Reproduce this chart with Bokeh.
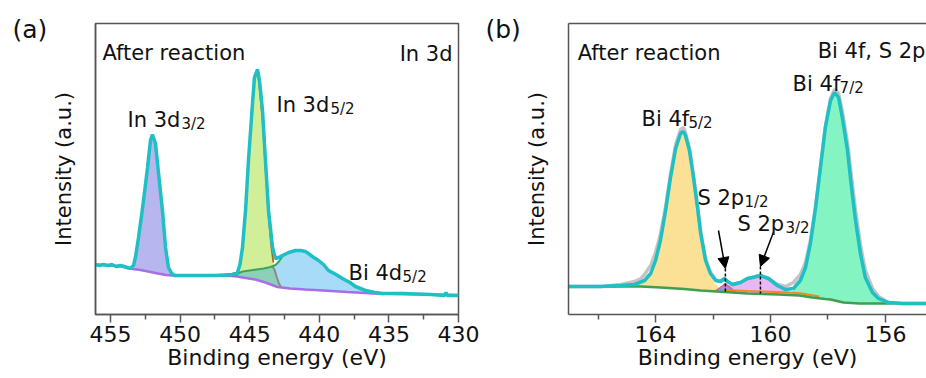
import math
from bokeh.plotting import figure
from bokeh.models import Range1d, FixedTicker, Label, Arrow, NormalHead, LinearAxis
from bokeh.layouts import row
from bokeh.embed import file_html
from bokeh.resources import INLINE

FONT = "DejaVu Sans"

# ---------------- Panel (a): In 3d (binding energy eV, intensity a.u.) ----------------
a_env_e = [456.08, 455.8, 455.5, 455.2, 454.9, 454.6, 454.3, 454.0, 453.8, 453.6, 453.35, 453.2,
           452.99, 452.8, 452.63, 452.34, 452.13, 451.99, 451.77, 451.55, 451.27, 451.05, 450.84,
           450.6, 450.4, 449.0, 447.5, 446.24, 445.88, 445.7, 445.52, 445.3, 445.09, 444.8, 444.66,
           444.44, 444.3, 444.08, 443.87, 443.65, 443.36, 443.15, 442.9, 442.65, 442.2, 441.7,
           441.35, 441.0, 440.78, 440.4, 440.06, 439.7, 439.34, 438.8, 438.34, 437.8, 437.4,
           436.68, 436.0, 435.46, 434.0, 432.0, 431.0, 430.9, 430.8, 430.0]
a_env_i = [50, 49, 50, 49, 50, 48, 49, 48, 47, 46, 49, 58,
           77, 96, 114, 147, 174, 180, 171, 141, 104, 67, 47,
           41, 39, 39, 39, 40, 42, 50, 67, 104, 154, 211, 237,
           245, 234, 204, 154, 104, 67, 56, 57, 59, 62, 64,
           64, 63, 61, 57, 54, 50, 44, 40, 36, 32, 28,
           24, 22, 21, 21, 20, 19, 22, 19, 19]

a_bg_e = [456.08, 455.0, 454.2, 453.9, 453.4, 452.85, 452.3, 451.6, 451.0, 450.5, 448.0, 446.3,
          445.9, 445.3, 444.6, 443.87, 443.3, 443.0, 442.1, 441.0, 439.7, 438.0, 436.1, 434.2,
          432.0, 430.0]
a_bg_i = [50, 49, 48, 47, 45.5, 44.5, 43, 41, 39.5, 39, 39, 38.5,
          38, 36.5, 35, 32, 29, 27.5, 26, 25, 24, 22.5, 21, 20.5,
          20, 19.5]

# In 3d3/2 component
a_p1_e = [453.7, 453.35, 453.2, 452.99, 452.8, 452.63, 452.34, 452.13, 451.99, 451.77, 451.55,
          451.27, 451.05, 450.84, 450.6, 450.45]
a_p1_i = [46.6, 49, 57, 76, 95, 113, 146, 173, 179, 170, 140, 103, 66, 46, 40, 39]

# In 3d5/2 component
a_p2_e = [446.3, 445.88, 445.7, 445.52, 445.3, 445.09, 444.8, 444.66, 444.44, 444.3, 444.08,
          443.87, 443.65, 443.45, 443.3, 443.15, 443.0, 442.85, 442.7]
a_p2_i = [38.5, 41, 49, 66, 103, 153, 210, 235, 243, 228, 195, 148, 100, 68, 52, 42, 33, 28.5, 27]

# In 3d5/2 shoulder component (teal, grey edge)
a_p3_e = [446.1, 445.88, 445.5, 445.0, 444.5, 444.0, 443.5, 443.35, 443.2, 443.05, 442.9, 442.75]
a_p3_i = [38.5, 41, 43, 44, 45, 46, 47.5, 48, 44, 37, 31, 27.5]

# Bi 4d5/2 component
a_p4_e = [446.1, 445.88, 445.5, 445.0, 444.5, 444.0, 443.5, 443.15, 442.9, 442.65, 442.2, 441.7,
          441.35, 441.0, 440.78, 440.4, 440.06, 439.7, 439.34, 438.8, 438.34, 437.8, 437.4,
          436.68, 436.0, 435.3]
a_p4_i = [38.5, 41, 43, 44, 45, 46, 47.5, 49.5, 53, 58, 62, 64,
          64, 63, 61, 57, 54, 50, 44, 40, 36, 32, 28,
          24, 22, 21]

a_ticks = [455, 450, 445, 440, 435, 430]
a_minor = [452.5, 447.5, 442.5, 437.5, 432.5]

# ---------------- Panel (b): Bi 4f, S 2p ----------------
b_env_e = [167.06, 165.91, 165.22, 164.73, 164.38, 164.17, 164.0, 163.83, 163.65, 163.48, 163.30,
           163.13, 163.03, 162.96, 162.82, 162.68, 162.54, 162.43, 162.26, 162.09, 161.91, 161.74,
           161.60, 161.50, 161.32, 161.04, 160.80, 160.63, 160.35, 160.07, 159.76, 159.48, 159.20,
           158.96, 158.78, 158.61, 158.43, 158.26, 158.09, 157.91, 157.77, 157.63, 157.50, 157.32,
           157.18, 157.04, 156.87, 156.70, 156.45, 156.24, 155.90, 155.41, 154.57]
b_env_i = [28, 28, 29, 30, 34, 41, 54, 74, 104, 137, 166,
           181, 183, 179, 164, 137, 107, 81, 54, 41, 34, 33,
           36, 33, 30, 32, 36, 37, 39, 36, 29, 25, 26,
           34, 47, 71, 107, 147, 187, 214, 222, 217, 197, 164,
           127, 94, 61, 37, 22, 16, 12, 11, 11]

b_raw_e = [167.06, 165.9, 165.2, 164.73, 164.5, 164.38, 164.17, 164.0, 163.83, 163.65, 163.48,
           163.30, 163.13, 163.03, 162.96, 162.82, 162.68, 162.54, 162.43, 162.26, 162.09, 161.91,
           161.74, 161.6, 161.5, 161.32, 161.04, 160.8, 160.63, 160.35, 160.07, 159.76, 159.48,
           159.2, 158.96, 158.78, 158.61, 158.43, 158.26, 158.09, 157.91, 157.77, 157.63, 157.5,
           157.32, 157.18, 157.04, 156.87, 156.7, 156.45, 156.24, 155.9, 155.41, 154.57]
b_raw_i = [28, 28, 30, 33, 36, 40, 49, 62, 80, 108, 140,
           170, 185, 187, 182, 166, 139, 109, 83, 56, 42, 35,
           33, 36, 33, 30, 32, 36, 37, 39, 36, 30, 28,
           32, 40, 52, 74, 108, 148, 188, 216, 225, 221, 203,
           172, 137, 104, 70, 44, 26, 18, 12, 11, 11]

b_bg_e = [167.06, 165.0, 164.5, 163.83, 163.0, 162.43, 161.6, 160.8, 159.72, 159.0, 158.54,
          158.1, 157.91, 157.46, 156.9, 156.28, 154.57]
b_bg_i = [28, 28, 28, 27, 25.5, 24, 22.5, 21, 20, 19, 17,
          15.5, 15, 12, 11, 11, 11]

# Bi 4f5/2 component
b_p1_e = [164.75, 164.5, 164.35, 164.17, 164.0, 163.83, 163.65, 163.48, 163.30, 163.13, 163.03,
          162.96, 162.82, 162.68, 162.54, 162.43, 162.26, 162.09, 161.91, 161.74, 161.55]
b_p1_i = [28, 31, 34, 40, 53, 73, 103, 136, 165, 180, 182,
          178, 163, 136, 106, 80, 53, 38, 30, 26, 23]

# S 2p1/2 component
b_p2_e = [161.95, 161.75, 161.57, 161.4, 161.2]
b_p2_i = [23, 27, 31, 27, 22]

# S 2p3/2 component
b_p3_e = [161.75, 161.5, 161.3, 161.04, 160.8, 160.63, 160.35, 160.07, 159.76, 159.48, 159.2, 158.9]
b_p3_i = [22.5, 29, 30, 31, 35, 36, 38, 35, 28, 24, 21.5, 19.5]

# broad S component (orange line)
b_p4_e = [161.6, 161.2, 160.8, 160.3, 159.8, 159.3, 158.9, 158.6, 158.3]
b_p4_i = [24.5, 24, 23.5, 23, 22.5, 22, 21, 19.5, 18]

# Bi 4f7/2 component
b_p5_e = [159.4, 159.2, 158.96, 158.78, 158.61, 158.43, 158.26, 158.09, 157.91, 157.77, 157.63,
          157.5, 157.32, 157.18, 157.04, 156.87, 156.7, 156.45, 156.24, 155.9, 155.6]
b_p5_i = [19.5, 24, 32, 45, 70, 106, 146, 186, 213, 221, 216,
          196, 163, 126, 93, 60, 36, 21, 15, 11.5, 11]

b_ticks = [164, 160, 156]
b_minor = [166, 162, 158]

# S 2p peak markers (energy, arrow-tip intensity, arrow start energy/intensity)
s_mark_e = [161.57, 160.35]
s_tip_i = [46, 48]
s_start_e = [161.81, 159.90]
s_start_i = [84, 82]

FRAME = "#555555"
ENV = "#1fbfc6"


def fill_under(p, ex, ey, bx, by, color):
    lo, hi = min(ex), max(ex)
    seg = [(x, y) for x, y in zip(bx, by) if lo < x < hi]
    seg.reverse()
    xs = list(ex) + [s[0] for s in seg]
    ys = list(ey) + [s[1] for s in seg]
    p.patch(xs, ys, fill_color=color, line_color=None)


def make_fig(x0, x1, width, bl, br):
    p = figure(width=width, height=378, x_range=Range1d(x0, x1), y_range=Range1d(0, 291),
               output_backend="svg", toolbar_location=None,
               min_border_left=bl, min_border_right=br, min_border_top=23, min_border_bottom=64)
    p.grid.visible = False
    p.background_fill_color = "white"
    p.border_fill_color = "white"
    xa = p.xaxis[0]
    xa.axis_line_color = FRAME
    xa.axis_line_width = 1.5
    xa.major_tick_line_color = FRAME
    xa.major_tick_line_width = 1.5
    xa.minor_tick_line_color = FRAME
    xa.minor_tick_line_width = 1.5
    xa.major_tick_out = 8
    xa.major_tick_in = 0
    xa.minor_tick_out = 5
    xa.minor_tick_in = 0
    xa.major_label_text_font = FONT
    xa.major_label_text_font_size = "22px"
    xa.major_label_text_color = "#111111"
    xa.major_label_standoff = 3
    xa.axis_label = "Binding energy (eV)"
    xa.axis_label_text_font = FONT
    xa.axis_label_text_font_size = "22px"
    xa.axis_label_text_font_style = "normal"
    xa.axis_label_text_color = "#111111"
    xa.axis_label_standoff = 0
    ya = p.yaxis[0]
    ya.ticker = FixedTicker(ticks=[])
    ya.major_tick_out = 0
    ya.minor_tick_out = 0
    ya.major_label_text_font_size = "0px"
    ya.axis_line_color = FRAME
    ya.axis_line_width = 1.5
    ya.axis_label = "Intensity (a.u.)"
    ya.axis_label_text_font = FONT
    ya.axis_label_text_font_size = "21px"
    ya.axis_label_text_font_style = "normal"
    ya.axis_label_text_color = "#111111"
    ya.axis_label_standoff = 20
    return p


def txt(p, x, y, text, size="21px", align="left", xo=0):
    p.add_layout(Label(x=x, y=y, text=text, text_font=FONT, text_font_size=size,
                       text_color="#111111", text_align=align, text_baseline="alphabetic",
                       x_offset=xo))


# ---------------- build panel (a) ----------------
pa = make_fig(456.08, 430.0, 480, 95, 22)
pa.xaxis[0].ticker = FixedTicker(ticks=a_ticks, minor_ticks=a_minor)
pa.outline_line_color = FRAME
pa.outline_line_width = 1.5

fill_under(pa, a_p1_e, a_p1_i, a_bg_e, a_bg_i, "#b8b6ee")
fill_under(pa, a_p4_e, a_p4_i, a_bg_e, a_bg_i, "#a8dbf7")
fill_under(pa, a_p2_e, a_p2_i, a_bg_e, a_bg_i, "#d0ef98")
fill_under(pa, a_p3_e, a_p3_i, a_bg_e, a_bg_i, "#8dcfb8")
pa.line(a_bg_e, a_bg_i, line_color="#a66fe3", line_width=2.5)
pa.line(a_p2_e[:15], a_p2_i[:15], line_color="#c25d12", line_width=1.8)
pa.line(a_p3_e[7:], a_p3_i[7:], line_color="#8a8a8a", line_width=2)
pa.line(a_p4_e, a_p4_i, line_color="#3ea35c", line_width=2)
pa.line(a_env_e, a_env_i, line_color=ENV, line_width=3.5)

txt(pa, 455.58, 262, "After reaction")
txt(pa, 430.43, 261, "In 3d", align="right")
txt(pa, 453.78, 195, "In 3d")
txt(pa, 453.78, 191, "3/2", size="15px", xo=54)
txt(pa, 443.08, 210, "In 3d")
txt(pa, 443.08, 206, "5/2", size="15px", xo=54)
txt(pa, 437.9, 42, "Bi 4d")
txt(pa, 437.9, 38, "5/2", size="15px", xo=54)
# panel tag placed in the left side panel (data units, so it lands left of the frame)
pa.add_layout(Label(x=462.05, y=285, text="(a)", text_font=FONT, text_font_size="25px",
                    text_color="#111111", text_align="left", text_baseline="alphabetic"), "left")

# ---------------- build panel (b) ----------------
pb = make_fig(167.03, 154.57, 446, 88, 0)
pb.xaxis[0].ticker = FixedTicker(ticks=b_ticks, minor_ticks=b_minor)
pb.outline_line_color = None
top_axis = LinearAxis(ticker=FixedTicker(ticks=[]), major_tick_out=0, minor_tick_out=0,
                      major_label_text_font_size="0px", axis_line_color=FRAME, axis_line_width=1.5)
pb.add_layout(top_axis, "above")

fill_under(pb, b_p1_e, b_p1_i, b_bg_e, b_bg_i, "#fbe196")
fill_under(pb, b_p3_e, b_p3_i, b_bg_e, b_bg_i, "#e9b7f3")
fill_under(pb, b_p2_e, b_p2_i, b_bg_e, b_bg_i, "#9c8fe6")
fill_under(pb, b_p5_e, b_p5_i, b_bg_e, b_bg_i, "#84f4c2")
pb.line(b_p2_e, b_p2_i, line_color="#d9607a", line_width=1.2)
pb.line(b_p4_e, b_p4_i, line_color="#ef8a1e", line_width=2)
pb.line(b_bg_e, b_bg_i, line_color="#3f9e4f", line_width=2.5)
pb.line(b_raw_e, b_raw_i, line_color="#c4c4c4", line_width=3.5)
pb.line(b_env_e, b_env_i, line_color=ENV, line_width=3.5)

for e, tip, se, si, bgv in zip(s_mark_e, s_tip_i, s_start_e, s_start_i, [b_bg_i[6], b_bg_i[7]]):
    pb.segment(x0=[e], y0=[tip], x1=[e], y1=[bgv], line_color="black", line_width=1.5,
               line_dash="3 2")
    pb.add_layout(Arrow(end=NormalHead(size=11, fill_color="black", line_color="black"),
                        x_start=se, y_start=si, x_end=e, y_end=tip,
                        line_color="black", line_width=1.5))

txt(pb, 166.71, 262, "After reaction")
txt(pb, 154.61, 264, "Bi 4f, S 2p", align="right")
txt(pb, 164.49, 196, "Bi 4f")
txt(pb, 164.49, 192, "5/2", size="15px", xo=47)
txt(pb, 159.23, 231, "Bi 4f")
txt(pb, 159.23, 227, "7/2", size="15px", xo=47)
txt(pb, 162.54, 117, "S 2p")
txt(pb, 162.54, 113, "1/2", size="15px", xo=47)
txt(pb, 161.15, 91, "S 2p")
txt(pb, 161.15, 87, "3/2", size="15px", xo=48)
pb.add_layout(Label(x=-1, y=285, x_units="screen", y_units="screen", text="(b)", text_font=FONT,
                    text_font_size="25px", text_color="#111111", text_align="left",
                    text_baseline="alphabetic"), "left")

layout = row(pa, pb, spacing=0)
open("out.html", "w").write(file_html(layout, INLINE))
